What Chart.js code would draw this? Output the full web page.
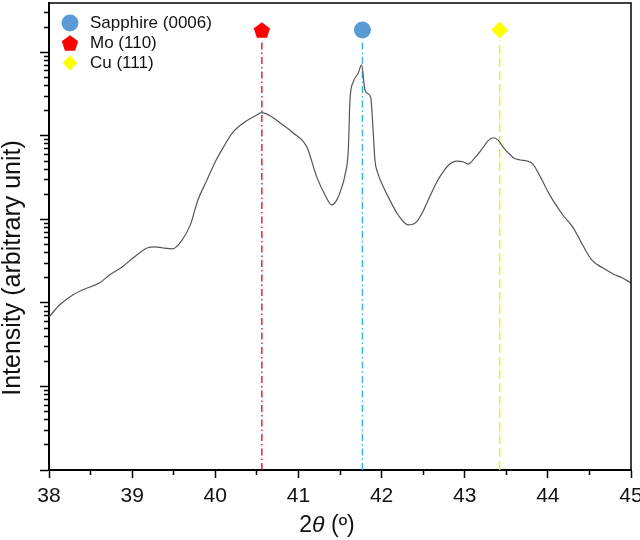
<!DOCTYPE html>
<html>
<head>
<meta charset="utf-8">
<script src="https://cdn.jsdelivr.net/npm/chart.js@4.4.0/dist/chart.umd.min.js"></script>
<style>
  html, body { margin: 0; padding: 0; background: #fff; }
  #wrap { width: 640px; height: 540px; }
</style>
</head>
<body>
<div id="wrap"><canvas id="xrdChart"></canvas></div>
<script>
// measured pattern (2theta in degrees, intensity in counts, log axis)
const twoTheta = [38.00, 38.13, 38.29, 38.43, 38.61, 38.73, 38.88, 39.01, 39.18, 39.27, 39.37, 39.49, 39.60, 39.70, 39.79, 39.90,
  40.00, 40.06, 40.21, 40.36, 40.48, 40.56, 40.66, 40.78, 40.93, 41.10, 41.22, 41.32, 41.40, 41.46, 41.52, 41.56, 41.60,
  41.62, 41.66, 41.72, 41.76, 41.80, 41.84, 41.87, 41.90, 41.92, 41.95, 42.01, 42.10, 42.20, 42.32, 42.42, 42.49, 42.56,
  42.66, 42.74, 42.82, 42.90, 42.98, 43.04, 43.12, 43.20, 43.28, 43.34, 43.40, 43.46, 43.52, 43.59, 43.67, 43.75, 43.82,
  43.91, 43.99, 44.06, 44.18, 44.30, 44.42, 44.53, 44.66, 44.78, 44.89, 45.00];
const intensity = [68, 95, 125, 147, 174, 217, 270, 345, 455, 470, 455, 445, 565, 860, 1700, 2960,
  4900, 6300, 11000, 14800, 17400, 19000, 17400, 14300, 11000, 7400, 3230, 1960, 1490, 1700, 2400, 3400, 6800,
  27000, 44300, 56800, 71000, 35500, 31900, 28600, 10900, 5150, 3700, 2600, 1700, 1130, 860, 935, 1200, 1700,
  2750, 3700, 4600, 5000, 4900, 4600, 5450, 6800, 8700, 9500, 8950, 7400, 6300, 5450, 5150, 5000, 4600,
  3230, 2250, 1700, 1130, 810, 490, 325, 263, 224, 200, 174];

// reference peaks
const peakNames = ['Sapphire (0006)', 'Mo (110)', 'Cu (111)'];
const peakPositions = [41.77, 40.56, 43.42];
const markerColors = ['#5b9bd5', '#ff0000', '#ffff00'];
const lineColors = ['#33b5e5', '#e8141c', '#f0f000'];
const markerLevel = 1.85e5;
const lineTop = 1.4e5;

const yMin = 1;
const yMax = 3.9e5;
const xMin = 38;
const xMax = 45;

function pentagon(color) {
  const c = document.createElement('canvas');
  c.width = 18; c.height = 18;
  const g = c.getContext('2d');
  const r = 8.6, cx = 9, cy = 9.8;
  g.fillStyle = color;
  g.beginPath();
  for (let i = 0; i < 5; i++) {
    const a = -Math.PI / 2 + i * 2 * Math.PI / 5;
    g.lineTo(cx + r * Math.cos(a), cy + r * Math.sin(a));
  }
  g.closePath();
  g.fill();
  return c;
}
const markerStyles = ['circle', pentagon(markerColors[1]), 'rectRot'];
const markerSizes = [8.5, 9, 8.5];

const datasets = [{
  data: twoTheta.map((t, i) => ({ x: t, y: intensity[i] })),
  showLine: true,
  borderColor: '#555',
  borderWidth: 1.2,
  pointRadius: 0,
  cubicInterpolationMode: 'monotone'
}];
peakPositions.forEach((p, i) => {
  datasets.push({
    data: [{ x: p, y: yMin }, { x: p, y: lineTop }],
    showLine: true,
    borderColor: lineColors[i],
    borderWidth: 1.4,
    borderDash: i === 2 ? [9, 4] : [7, 3, 1.5, 3],
    pointRadius: 0
  });
  datasets.push({
    label: peakNames[i],
    data: [{ x: p, y: markerLevel }],
    pointStyle: markerStyles[i],
    pointRadius: markerSizes[i],
    backgroundColor: markerColors[i],
    borderWidth: 0
  });
});

const FONT = '"Liberation Sans", Arial, sans-serif';

const extras = {
  id: 'extras',
  afterDraw(chart) {
    const { ctx, chartArea: a } = chart;
    ctx.save();
    // frame top + right
    ctx.strokeStyle = '#000';
    ctx.lineWidth = 1.5;
    ctx.beginPath();
    ctx.moveTo(a.left, a.top);
    ctx.lineTo(a.right, a.top);
    ctx.lineTo(a.right, a.bottom);
    ctx.stroke();

    // legend
    ctx.font = '17px ' + FONT;
    ctx.textBaseline = 'middle';
    peakNames.forEach((name, i) => {
      const y = 23 + i * 20;
      ctx.fillStyle = markerColors[i];
      Chart.helpers.drawPoint(ctx, { pointStyle: markerStyles[i], radius: i === 2 ? 7.5 : 8.5, borderWidth: 0, rotation: 0 }, 70, y);
      ctx.fillStyle = '#111';
      ctx.fillText(name, 90, y);
    });

    // x title: 2θ (º)
    const parts = [['2', ''], ['θ', 'italic '], [' (º)', '']];
    let total = 0;
    parts.forEach(p => { ctx.font = p[1] + '23px ' + FONT; total += ctx.measureText(p[0]).width; });
    let x = 327 - total / 2;
    ctx.textAlign = 'left';
    parts.forEach(p => {
      ctx.font = p[1] + '23px ' + FONT;
      ctx.fillText(p[0], x, 526);
      x += ctx.measureText(p[0]).width;
    });

    // y title
    ctx.translate(13, 268);
    ctx.rotate(-Math.PI / 2);
    ctx.textAlign = 'center';
    ctx.font = '25px ' + FONT;
    ctx.fillText('Intensity (arbitrary unit)', 0, 0);
    ctx.restore();
  }
};

function tickOnly(len) {
  return { drawOnChartArea: false, color: '#000', tickLength: len, tickWidth: 1.5 };
}
function noPad(s) {
  s.paddingLeft = 0; s.paddingRight = 0; s.paddingTop = 0; s.paddingBottom = 0;
}

new Chart(document.getElementById('xrdChart'), {
  type: 'scatter',
  data: { datasets },
  options: {
    responsive: true,
    maintainAspectRatio: false,
    animation: false,
    layout: { autoPadding: false, padding: { left: 0, top: 3, right: 9, bottom: 0 } },
    plugins: { legend: { display: false }, tooltip: { enabled: false } },
    scales: {
      x: {
        type: 'linear',
        min: xMin,
        max: xMax,
        afterFit: s => { s.height = 70; noPad(s); },
        border: { color: '#000', width: 2 },
        grid: tickOnly(8),
        ticks: {
          stepSize: 1,
          autoSkip: false,
          maxRotation: 0,
          padding: 6,
          color: '#111',
          font: { family: FONT, size: 21 }
        }
      },
      xMinor: {
        type: 'linear',
        position: 'bottom',
        weight: -1,
        min: xMin,
        max: xMax,
        afterFit: s => { s.height = 0; noPad(s); },
        afterBuildTicks: s => {
          const t = [];
          for (let v = xMin + 0.5; v < xMax; v += 1) t.push({ value: v });
          s.ticks = t;
        },
        border: { display: false },
        grid: tickOnly(5),
        ticks: { display: false, autoSkip: false }
      },
      y: {
        type: 'logarithmic',
        min: yMin,
        max: yMax,
        afterFit: s => { s.width = 49; noPad(s); },
        afterBuildTicks: s => {
          const t = [];
          for (let e = 0; e <= 5; e++) t.push({ value: Math.pow(10, e) });
          s.ticks = t;
        },
        border: { color: '#000', width: 2 },
        grid: tickOnly(9),
        ticks: { display: false, autoSkip: false }
      },
      yMinor: {
        type: 'logarithmic',
        position: 'left',
        weight: -1,
        min: yMin,
        max: yMax,
        afterFit: s => { s.width = 0; noPad(s); },
        afterBuildTicks: s => {
          const t = [];
          for (let e = 0; e <= 5; e++) {
            for (let m = 2; m <= 9; m++) {
              const v = m * Math.pow(10, e);
              if (v <= yMax) t.push({ value: v });
            }
          }
          s.ticks = t;
        },
        border: { display: false },
        grid: tickOnly(5),
        ticks: { display: false, autoSkip: false }
      }
    }
  },
  plugins: [extras]
});
</script>
</body>
</html>
